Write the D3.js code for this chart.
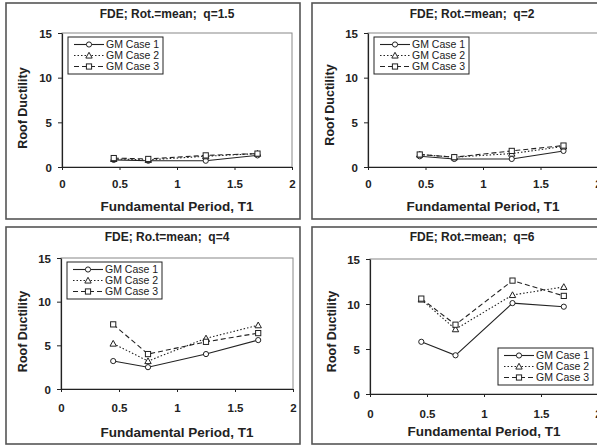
<!DOCTYPE html>
<html><head><meta charset="utf-8">
<script src="https://cdn.jsdelivr.net/npm/d3@7/dist/d3.min.js"></script>
<style>
html,body{margin:0;padding:0;background:#fff;}
svg{display:block;font-family:"Liberation Sans",Arial,sans-serif;}
text{white-space:pre;}
</style></head>
<body>
<svg id="chart" width="597" height="446"></svg>
<script>
// ---- data ----
const periods = [0.45, 0.75, 1.25, 1.7];
const seriesNames = ["GM Case 1", "GM Case 2", "GM Case 3"];
const titles = ["FDE; Rot.=mean;  q=1.5", "FDE; Rot.=mean;  q=2", "FDE; Ro.t=mean;  q=4", "FDE; Rot.=mean;  q=6"];
const xTicks = [0, 0.5, 1, 1.5, 2];
const xTickLabels = ["0", "0.5", "1", "1.5", "2"];
const yTicks = [0, 5, 10, 15];
const xTitle = "Fundamental Period, T1";
const yTitle = "Roof Ductility";

const q15Case1 = [0.8, 0.7, 0.7, 1.3];
const q15Case2 = [0.9, 0.8, 1.2, 1.5];
const q15Case3 = [1.0, 0.9, 1.3, 1.5];
const q2Case1 = [1.2, 0.9, 0.9, 1.8];
const q2Case2 = [1.4, 1.1, 1.5, 2.3];
const q2Case3 = [1.4, 1.1, 1.8, 2.4];
const q4Case1 = [3.2, 2.5, 4.0, 5.6];
const q4Case2 = [5.2, 3.2, 5.8, 7.3];
const q4Case3 = [7.4, 4.0, 5.4, 6.4];
const q6Case1 = [5.8, 4.3, 10.1, 9.7];
const q6Case2 = [10.5, 7.2, 11.0, 11.9];
const q6Case3 = [10.6, 7.7, 12.6, 10.9];

const panelSeries = [
  [q15Case1, q15Case2, q15Case3],
  [q2Case1, q2Case2, q2Case3],
  [q4Case1, q4Case2, q4Case3],
  [q6Case1, q6Case2, q6Case3]
];

// ---- layout ----
const layouts = [
  {bx:6,  by:3,   bw:294, bh:216, pl:62,  pr:292, pt:33,  pb:167, titleX:167, titleY:18,  tickY:188, axTitleY:211, yTitleX:23,  yTitleDy:8, legend:"tl"},
  {bx:312,by:3,   bw:294, bh:216, pl:368, pr:598, pt:33,  pb:167, titleX:472, titleY:18,  tickY:188, axTitleY:211, yTitleX:330, yTitleDy:5, legend:"tl"},
  {bx:6,  by:227, bw:294, bh:217, pl:61,  pr:293, pt:258, pb:389, titleX:167, titleY:241, tickY:412, axTitleY:437, yTitleX:23,  yTitleDy:8, legend:"tl"},
  {bx:312,by:227, bw:294, bh:217, pl:370, pr:598, pt:259, pb:394, titleX:472, titleY:241, tickY:418, axTitleY:436, yTitleX:332, yTitleDy:5, legend:"br"}
];

const svg = d3.select("#chart");
const lineStyles = [null, "1.5,2", "5,3"];
const ink = "#222";

function drawMarker(g, type, x, y) {
  if (type === 0) {
    g.append("circle").attr("cx", x).attr("cy", y).attr("r", 2.6)
      .attr("fill", "#fff").attr("stroke", ink).attr("stroke-width", 1);
  } else if (type === 1) {
    const s = 3.2;
    g.append("path").attr("d", `M${x},${y - s}L${x + s},${y + s * 0.8}L${x - s},${y + s * 0.8}Z`)
      .attr("fill", "#fff").attr("stroke", ink).attr("stroke-width", 1);
  } else {
    g.append("rect").attr("x", x - 2.6).attr("y", y - 2.6).attr("width", 5.2).attr("height", 5.2)
      .attr("fill", "#fff").attr("stroke", ink).attr("stroke-width", 1);
  }
}

layouts.forEach((L, i) => {
  const g = svg.append("g");
  g.append("rect").attr("x", L.bx).attr("y", L.by).attr("width", L.bw).attr("height", L.bh)
    .attr("fill", "#fff").attr("stroke", "#555").attr("stroke-width", 1.6);

  const x = d3.scaleLinear().domain([0, 2]).range([L.pl, L.pr]);
  const y = d3.scaleLinear().domain([0, 15]).range([L.pb, L.pt]);

  // plot area frame
  g.append("rect").attr("x", L.pl).attr("y", L.pt).attr("width", L.pr - L.pl).attr("height", L.pb - L.pt)
    .attr("fill", "none").attr("stroke", "#888").attr("stroke-width", 1);

  // axes
  const xAxis = d3.axisBottom(x).tickValues(xTicks).tickFormat((d, k) => xTickLabels[k]).tickSizeOuter(0).tickSizeInner(3);
  const yAxis = d3.axisLeft(y).tickValues(yTicks).tickSizeOuter(0).tickSizeInner(4);
  const gx = g.append("g").attr("transform", `translate(0,${L.pb})`).call(xAxis);
  const gy = g.append("g").attr("transform", `translate(${L.pl},0)`).call(yAxis);
  [gx, gy].forEach(a => {
    a.select(".domain").attr("stroke", ink).attr("stroke-width", 1.2);
    a.selectAll(".tick line").attr("stroke", ink);
    a.selectAll("text").attr("font-family", "Liberation Sans, Arial, sans-serif")
      .attr("font-weight", "bold").attr("font-size", 11.5).attr("fill", ink);
  });
  gx.selectAll(".tick text").attr("y", null).attr("dy", null)
    .attr("transform", `translate(0,${L.tickY - L.pb})`);
  gy.selectAll(".tick text").attr("x", -10).attr("dy", "0.35em");

  // titles
  g.append("text").attr("x", L.titleX).attr("y", L.titleY).attr("text-anchor", "middle")
    .attr("font-size", 12).attr("font-weight", "bold").attr("fill", ink).text(titles[i]);
  g.append("text").attr("x", (L.pl + L.pr) / 2).attr("y", L.axTitleY).attr("text-anchor", "middle")
    .attr("font-size", 13.5).attr("font-weight", "bold").attr("fill", ink).text(xTitle);
  g.append("text").attr("transform", `translate(${L.yTitleX},${(L.pt + L.pb) / 2 + L.yTitleDy}) rotate(-90)`)
    .attr("text-anchor", "middle").attr("dy", "0.35em")
    .attr("font-size", 12.5).attr("font-weight", "bold").attr("fill", ink).text(yTitle);

  // series
  const line = d3.line().x((d, k) => x(periods[k])).y(d => y(d));
  panelSeries[i].forEach((vals, s) => {
    g.append("path").datum(vals).attr("d", line).attr("fill", "none")
      .attr("stroke", ink).attr("stroke-width", 1.1)
      .attr("stroke-dasharray", lineStyles[s]);
  });
  panelSeries[i].forEach((vals, s) => {
    vals.forEach((v, k) => drawMarker(g, s, x(periods[k]), y(v)));
  });

  // legend
  let lx, ly, lw = 95, lh = 37;
  if (L.legend === "tl") { lx = L.pl + 6; ly = L.pt + 4; }
  else { lx = L.pr - lw - 5; ly = L.pb - lh - 9; }
  const lg = g.append("g");
  lg.append("rect").attr("x", lx).attr("y", ly).attr("width", lw).attr("height", lh)
    .attr("fill", "#fff").attr("stroke", ink).attr("stroke-width", 1);
  seriesNames.forEach((name, s) => {
    const ry = ly + 7.5 + s * 11;
    lg.append("line").attr("x1", lx + 6).attr("x2", lx + 36).attr("y1", ry).attr("y2", ry)
      .attr("stroke", ink).attr("stroke-width", 1.1).attr("stroke-dasharray", lineStyles[s]);
    drawMarker(lg, s, lx + 21, ry);
    lg.append("text").attr("x", lx + 38).attr("y", ry).attr("dy", "0.35em")
      .attr("font-size", 10.5).attr("fill", ink).text(name);
  });
});
</script>
</body></html>
